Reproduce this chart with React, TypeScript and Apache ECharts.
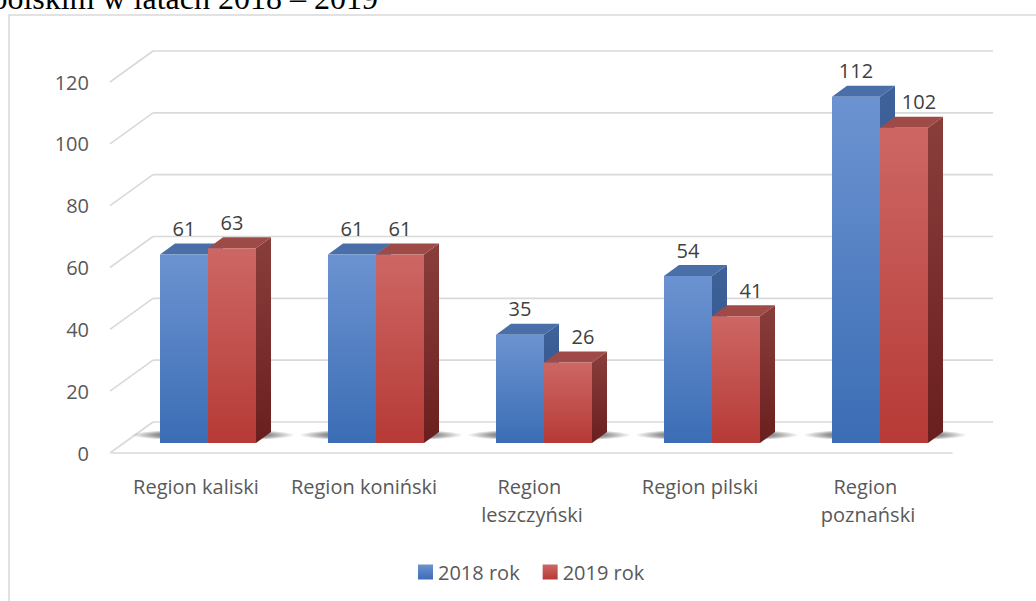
import React, { useEffect, useRef } from "react";
import * as echarts from "echarts";

const categories = [
  "Region kaliski",
  "Region koniński",
  "Region leszczyński",
  "Region pilski",
  "Region poznański",
];
const values2018 = [61, 61, 35, 54, 112];
const values2019 = [63, 61, 26, 41, 102];
const seriesNames = ["2018 rok", "2019 rok"];
const yTicks = [0, 20, 40, 60, 80, 100, 120];
const titleText = "polskim w latach 2018 – 2019";

const FONT = '"Open Sans", "Liberation Sans", sans-serif';
const WALL_DX = 41;
const WALL_DY = -31;
const BAR_SHIFT_X = 12;
const BAR_SHIFT_Y = -10;
const BAR_RATIO = 48 / 168;
const BAR_DX = 15;
const BAR_DY = -11;

const palettes = [
  {
    frontTop: "#6c93d1",
    frontBottom: "#3b6db5",
    top: "#4a6ea7",
    sideTop: "#40629a",
    sideBottom: "#2b4d85",
  },
  {
    frontTop: "#cd6764",
    frontBottom: "#b63a36",
    top: "#9e4a47",
    sideTop: "#8a3e3c",
    sideBottom: "#6a1f1f",
  },
];

function grad(a: string, b: string) {
  return new echarts.graphic.LinearGradient(0, 0, 0, 1, [
    { offset: 0, color: a },
    { offset: 1, color: b },
  ]);
}

export default function App() {
  const ref = useRef<HTMLDivElement>(null);

  useEffect(() => {
    if (!ref.current) return;
    const chart = echarts.init(ref.current, null, { renderer: "svg" });

    const wallRender = (params: any, api: any) => {
      const cs = params.coordSys;
      const y = api.coord([0, api.value(1)])[1];
      const left = cs.x;
      const right = cs.x + cs.width;
      const style = { stroke: "#d9d9d9", lineWidth: 1.6, fill: null };
      return {
        type: "group",
        children: [
          {
            type: "line",
            shape: { x1: left - 2, y1: y, x2: left + WALL_DX, y2: y + WALL_DY },
            style,
          },
          {
            type: "line",
            shape: {
              x1: left + WALL_DX,
              y1: y + WALL_DY,
              x2: right + WALL_DX,
              y2: y + WALL_DY,
            },
            style,
          },
        ],
      };
    };

    const makeBarRender = (which: number) => (params: any, api: any) => {
      const i = params.dataIndex;
      const cat = api.value(0);
      const v = api.value(1);
      const base = api.coord([cat, 0]);
      const top = api.coord([cat, v]);
      const band = api.size([1, 0])[0];
      const bw = band * BAR_RATIO;
      const cx = base[0] + BAR_SHIFT_X;
      const x0 = which === 0 ? cx - bw : cx;
      const x1 = x0 + bw;
      const yb = base[1] + BAR_SHIFT_Y;
      const yt = top[1] + BAR_SHIFT_Y;
      const p = palettes[which];
      const children: any[] = [];
      if (which === 0) {
        children.push({
          type: "ellipse",
          shape: { cx: cx + 5, cy: base[1] - 18, rx: 82, ry: 6 },
          style: {
            fill: new echarts.graphic.RadialGradient(0.5, 0.5, 0.5, [
              { offset: 0, color: "rgba(0,0,0,0.8)" },
              { offset: 0.7, color: "rgba(0,0,0,0.42)" },
              { offset: 1, color: "rgba(0,0,0,0)" },
            ]),
          },
        });
      }
      children.push({
        type: "polygon",
        shape: {
          points: [
            [x1, yt],
            [x1 + BAR_DX, yt + BAR_DY],
            [x1 + BAR_DX, yb + BAR_DY],
            [x1, yb],
          ],
        },
        style: { fill: grad(p.sideTop, p.sideBottom) },
      });
      children.push({
        type: "polygon",
        shape: {
          points: [
            [x0, yt],
            [x0 + BAR_DX, yt + BAR_DY],
            [x1 + BAR_DX, yt + BAR_DY],
            [x1, yt],
          ],
        },
        style: { fill: p.top },
      });
      children.push({
        type: "rect",
        shape: { x: x0, y: yt, width: bw, height: yb - yt },
        style: { fill: grad(p.frontTop, p.frontBottom) },
      });
      const shift = which === 1 && values2019[i] < values2018[i] ? 15 : 0;
      children.push({
        type: "text",
        x: (x0 + x1) / 2 + shift,
        y: yt - 26,
        style: {
          text: String(v),
          fill: "#404040",
          fontSize: 20,
          fontFamily: FONT,
          align: "center",
          verticalAlign: "middle",
        },
      });
      return { type: "group", children };
    };

    const option: any = {
      animation: false,
      backgroundColor: "#ffffff",
      grid: { left: 112, right: 84, top: 82, bottom: 148, containLabel: false },
      legend: {
        data: seriesNames,
        left: 418,
        top: 562,
        padding: 0,
        itemWidth: 15,
        itemHeight: 15,
        itemGap: 23,
        icon: "rect",
        textStyle: {
          fontSize: 20,
          color: "#595959",
          fontFamily: FONT,
          lineHeight: 20,
        },
      },
      xAxis: {
        type: "category",
        data: categories,
        axisLine: { show: true, lineStyle: { color: "#d9d9d9", width: 1.6 } },
        axisTick: { show: false },
        splitLine: { show: false },
        axisLabel: {
          interval: 0,
          fontSize: 20,
          color: "#595959",
          fontFamily: FONT,
          lineHeight: 28,
          margin: 19,
          width: 158,
          overflow: "break",
        },
      },
      yAxis: {
        type: "value",
        min: 0,
        max: 120,
        interval: 20,
        axisLine: { show: false },
        axisTick: { show: false },
        splitLine: { show: false },
        axisLabel: {
          fontSize: 20,
          color: "#595959",
          fontFamily: FONT,
          margin: 23,
        },
      },
      graphic: [
        {
          type: "rect",
          z: -10,
          shape: { x: 9, y: 15, width: 1100, height: 700 },
          style: { fill: "none", stroke: "#d9d9d9", lineWidth: 1.5 },
        },
        {
          type: "text",
          x: 378,
          y: -2,
          style: {
            text: titleText,
            fill: "#000000",
            fontSize: 32,
            fontFamily: '"Liberation Serif", "Times New Roman", serif',
            align: "right",
            verticalAlign: "middle",
          },
        },
      ],
      series: [
        {
          type: "custom",
          name: "wall",
          silent: true,
          z: 1,
          data: yTicks.map((t) => [0, t]),
          renderItem: wallRender,
        },
        {
          type: "custom",
          name: seriesNames[0],
          z: 2,
          itemStyle: { color: grad(palettes[0].frontTop, palettes[0].frontBottom) },
          data: values2018.map((v, i) => [i, v]),
          renderItem: makeBarRender(0),
        },
        {
          type: "custom",
          name: seriesNames[1],
          z: 3,
          itemStyle: { color: grad(palettes[1].frontTop, palettes[1].frontBottom) },
          data: values2019.map((v, i) => [i, v]),
          renderItem: makeBarRender(1),
        },
      ],
    };

    chart.setOption(option);
    return () => chart.dispose();
  }, []);

  return (
    <div
      ref={ref}
      style={{
        position: "fixed",
        left: 0,
        top: 0,
        width: 1036,
        height: 601,
        background: "#ffffff",
      }}
    />
  );
}
